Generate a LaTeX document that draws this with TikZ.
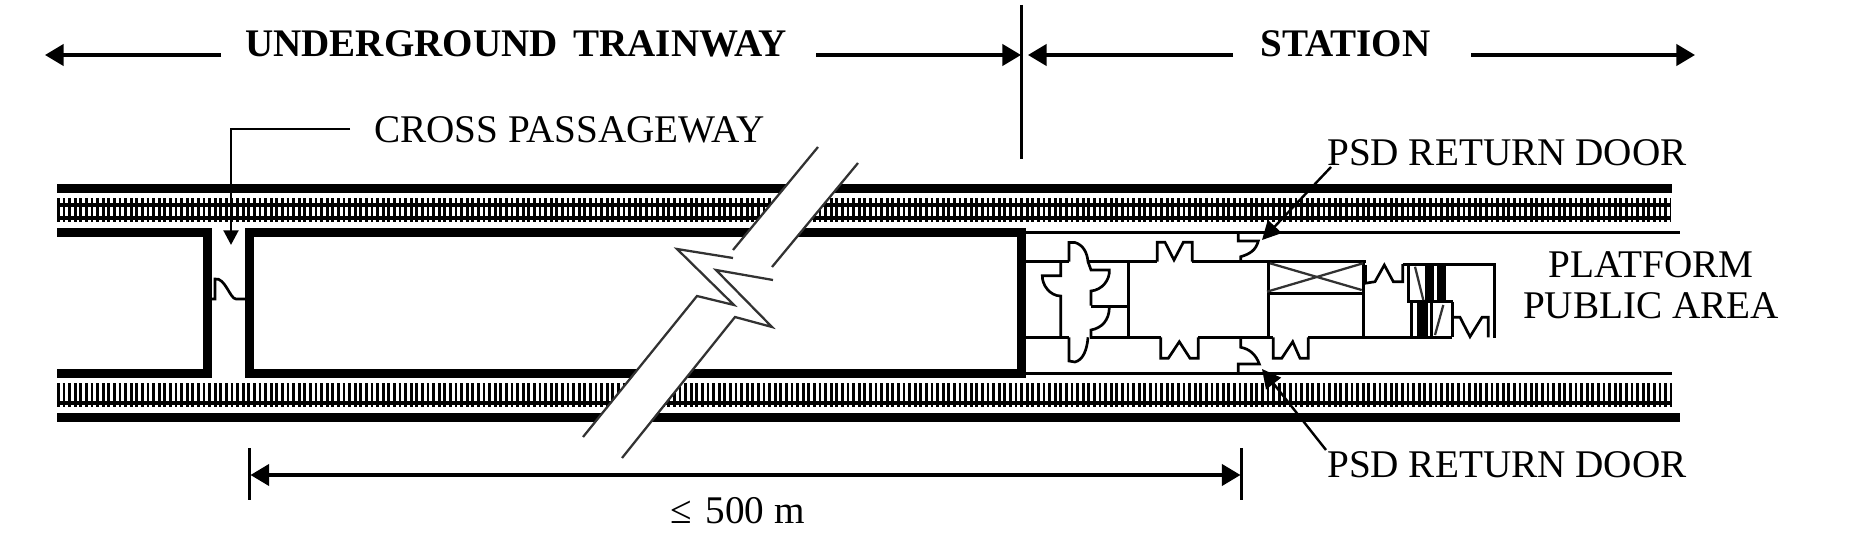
\documentclass[tikz,border=0pt]{standalone}
\usepackage{fontspec}
\setmainfont{Liberation Serif}
\usetikzlibrary{arrows.meta}
\tikzset{
  wallline/.style={line width=6.75pt},
  thinline/.style={line width=2.25pt},
  doorline/.style={line width=2pt},
  greyline/.style={line width=1.7pt,color={rgb, 255:red, 50; green, 50; blue, 50 }},
  sleepers/.style={line width=18pt,dash pattern={on 2.1pt off 2.1pt}},
  railline/.style={line width=2.6pt},
  headarrow/.style={line width=2.5pt,-{Triangle[length=14pt,width=16pt]}},
  crossarrow/.style={line width=2.2pt,-{Triangle[length=11pt,width=11pt]}},
  leaderline/.style={line width=1.8pt,-{Triangle[length=14pt,width=14pt]}},
  labeltext/.style={anchor=base west,inner sep=0pt,font=\fontsize{29.4}{32}\selectfont},
  titletext/.style={anchor=base west,inner sep=0pt,font=\fontsize{29.3}{32}\selectfont\bfseries},
}
\begin{document}
\begin{tikzpicture}[x=0.75pt,y=0.75pt,yscale=-1,xscale=1]
\useasboundingbox (0,0) rectangle (1859,549);

%Outer walls
\draw [wallline] (57,188.5) -- (1672,188.5) ;
\draw [wallline] (57,417) -- (1680,417) ;
%Upper track
\draw [sleepers] (57,210) -- (1670,210) ;
\draw [railline] (57,205) -- (1670,205) ;
\draw [railline] (57,218) -- (1670,218) ;
%Lower track
\draw [sleepers] (57,395) -- (1672,395) ;
\draw [railline] (57,403) -- (1672,403) ;
%Tunnel blocks
\draw [wallline] (57,232.5) -- (207.5,232.5) -- (207.5,373.5) -- (57,373.5) ;
\draw [wallline] (249.5,232.5) rectangle (1021.5,373.5) ;
%Cross passage door
\draw [doorline] (212,299) -- (215,299) -- (215,279) .. controls (225,277) and (230,299) .. (236,299) -- (245,299) ;

%Break in the tunnel
\fill [white] (818,147) -- (733,250) -- (733,258) -- (677,249) -- (734,305) -- (697,296) -- (583,437) -- (622,458) -- (735,317) -- (772,327) -- (716,270) -- (773,280) -- (772,267) -- (858,163) -- cycle ;
\draw [greyline] (818,147) -- (733,250) ;
\draw [greyline] (858,163) -- (772,267) ;
\draw [greyline] (733,258) -- (677,249) -- (734,305) -- (697,296) -- (583,437) ;
\draw [greyline] (773,280) -- (716,270) -- (772,327) -- (735,317) -- (622,458) ;

%Platform edges
\draw [thinline] (1025,232.3) -- (1680,232.3) ;
\draw [thinline] (1025,373.3) -- (1672,373.3) ;
%Gate line, top and bottom
\draw [thinline] (1025,261.7) -- (1069,261.7) ;
\draw [thinline] (1088,261.7) -- (1157,261.7) ;
\draw [thinline] (1192,261.7) -- (1366,261.7) ;
\draw [thinline] (1025,337.3) -- (1069,337.3) ;
\draw [thinline] (1090,337.3) -- (1161,337.3) ;
\draw [thinline] (1198,337.3) -- (1273,337.3) ;
\draw [thinline] (1308,337.3) -- (1452,337.3) ;
%Revolving door
\draw [doorline] (1060.7,261.7) -- (1060.7,275.7) -- (1042.3,275.7) .. controls (1042,285) and (1050,296) .. (1060.7,296) -- (1060.7,337.3) ;
\draw [doorline] (1069,261.7) -- (1069,242.5) -- (1075,242.5) .. controls (1083,245) and (1087,252) .. (1088,261.7) -- (1091,270) -- (1109.3,270) .. controls (1110,280) and (1102,290) .. (1091,291) -- (1091,305.7) ;
\draw [thinline] (1091,306) -- (1128,306) ;
\draw [doorline] (1109.3,308) .. controls (1109,320) and (1102,328) .. (1091,330) -- (1091,337.3) ;
\draw [doorline] (1069,337.3) -- (1069,361) -- (1075,362) .. controls (1083,360) and (1087,350) .. (1088,337.3) ;
\draw [thinline] (1128.3,261.7) -- (1128.3,337.3) ;
%Swing doors
\draw [doorline] (1157.3,261.7) -- (1157.3,242.3) -- (1165,242.3) -- (1174,260) -- (1183.3,242.3) -- (1192.3,242.3) -- (1192.3,261.7) ;
\draw [doorline] (1160.7,337.3) -- (1160.7,358.3) -- (1168.3,358.3) -- (1179.3,341.7) -- (1190,358.3) -- (1198.3,358.3) -- (1198.3,337.3) ;
\draw [doorline] (1273.3,337.3) -- (1273.3,358.3) -- (1281.7,358.3) -- (1292.7,341.7) -- (1300,358.3) -- (1308.3,358.3) -- (1308.3,337.3) ;
%Return doors
\draw [doorline] (1240.7,261.7) -- (1240.7,256.7) .. controls (1250,254) and (1256,250) .. (1258.3,241) -- (1238.3,241) -- (1238.3,233) ;
\draw [doorline] (1240.7,337.3) -- (1240.7,347.3) .. controls (1250,349) and (1256,355) .. (1259.3,364) -- (1238.3,364) -- (1238.3,373) ;
%Plant room with the cross
\draw [thinline] (1268.3,261.7) -- (1268.3,337.3) ;
\draw [thinline] (1268.3,293.3) -- (1363.3,293.3) ;
\draw [thinline] (1363.3,261.7) -- (1363.3,337.3) ;
\draw [line width=3.5pt] (1365,265) -- (1365,283) ;
\draw [greyline] (1270,263.3) -- (1361.7,290) ;
\draw [greyline] (1267,291.7) -- (1363,263.3) ;
%Ticket gates
\draw [doorline] (1365,283.3) -- (1375,281.7) -- (1384.3,265) -- (1393.3,281.7) -- (1402.7,281.7) -- (1402.7,264) ;
\draw [thinline] (1402.7,264) -- (1494.3,264) -- (1494.3,338.3) ;
\draw [thinline] (1408.3,264) -- (1408.3,301.7) -- (1453.3,301.7) ;
\fill (1425,264) rectangle (1434,301.7) ;
\fill (1437.3,264) rectangle (1445.7,301.7) ;
\draw [greyline] (1415,266.7) -- (1423.3,300) ;
\draw [thinline] (1411.7,301.7) -- (1411.7,337.3) ;
\fill (1416.7,301.7) rectangle (1428.3,337.3) ;
\draw [thinline] (1431.7,301.7) -- (1431.7,337.3) ;
\draw [greyline] (1443.3,305) -- (1435,335) ;
\draw [thinline] (1452.3,301.7) -- (1452.3,337.3) ;
\draw [doorline] (1454,317.3) -- (1460,317.3) -- (1470,336.7) -- (1482,317.3) -- (1488.3,317.3) -- (1488.3,337.3) ;

% Text Node
\draw (245,57) node (trainwayTitle) [titletext] {UNDERGROUND\hspace{0.4em}TRAINWAY};
% Text Node
\draw (1260,57) node (stationTitle) [titletext] {STATION};
% Text Node
\draw (374,143) node (crossLabel) [labeltext] {CROSS PASSAGEWAY};
% Text Node
\draw (1327,166) node (returnTopLabel) [labeltext] {PSD RETURN DOOR};
% Text Node
\draw (1327,477) node (returnBottomLabel) [labeltext] {PSD RETURN DOOR};
% Text Node
\draw (1651,277) node (platformLabel) [labeltext,anchor=base] {PLATFORM};
% Text Node
\draw (1651,318) node (publicLabel) [labeltext,anchor=base] {PUBLIC AREA};
% Text Node
\draw (670,523) node (lengthLabel) [labeltext] {≤\hspace{0.1em} 500 m};

%Section arrows
\coordinate (trainwayEnd) at (45,55);
\coordinate (trainwayStart) at (221,55);
\coordinate (trainwayStop) at (816,55);
\coordinate (sectionLine) at (1021,55);
\coordinate (stationBack) at (1028,55);
\coordinate (stationFront) at (1233,55);
\coordinate (stationStart) at (1471,55);
\coordinate (stationEnd) at (1695,55);
\coordinate (sectionTop) at (1021,5);
\coordinate (sectionBottom) at (1021,159);
\draw [headarrow] (trainwayStart) -- (trainwayEnd) ;
\draw [headarrow] (trainwayStop) -- (sectionLine) ;
\draw [headarrow] (stationFront) -- (stationBack) ;
\draw [headarrow] (stationStart) -- (stationEnd) ;
\draw [thinline] (sectionTop) -- (sectionBottom) ;

%Leaders
\coordinate (crossStart) at (350,129);
\coordinate (crossTip) at (231,245);
\coordinate (returnTopStart) at (1331,167);
\coordinate (returnTopTip) at (1262,240);
\coordinate (returnBottomStart) at (1326,450);
\coordinate (returnBottomTip) at (1262,369);
\draw [crossarrow] (crossStart) -| (crossTip) ;
\draw [leaderline] (returnTopStart) -- (returnTopTip) ;
\draw [leaderline] (returnBottomStart) -- (returnBottomTip) ;

%Length dimension
\coordinate (dimLeft) at (250.5,475);
\coordinate (dimRight) at (1240.5,475);
\draw [thinline] (249.5,448) -- (249.5,500) ;
\draw [thinline] (1241.5,448) -- (1241.5,500) ;
\draw [headarrow,{Triangle[length=14pt,width=16pt]}-{Triangle[length=14pt,width=16pt]}] (dimLeft) -- (dimRight) ;

\end{tikzpicture}
\end{document}
